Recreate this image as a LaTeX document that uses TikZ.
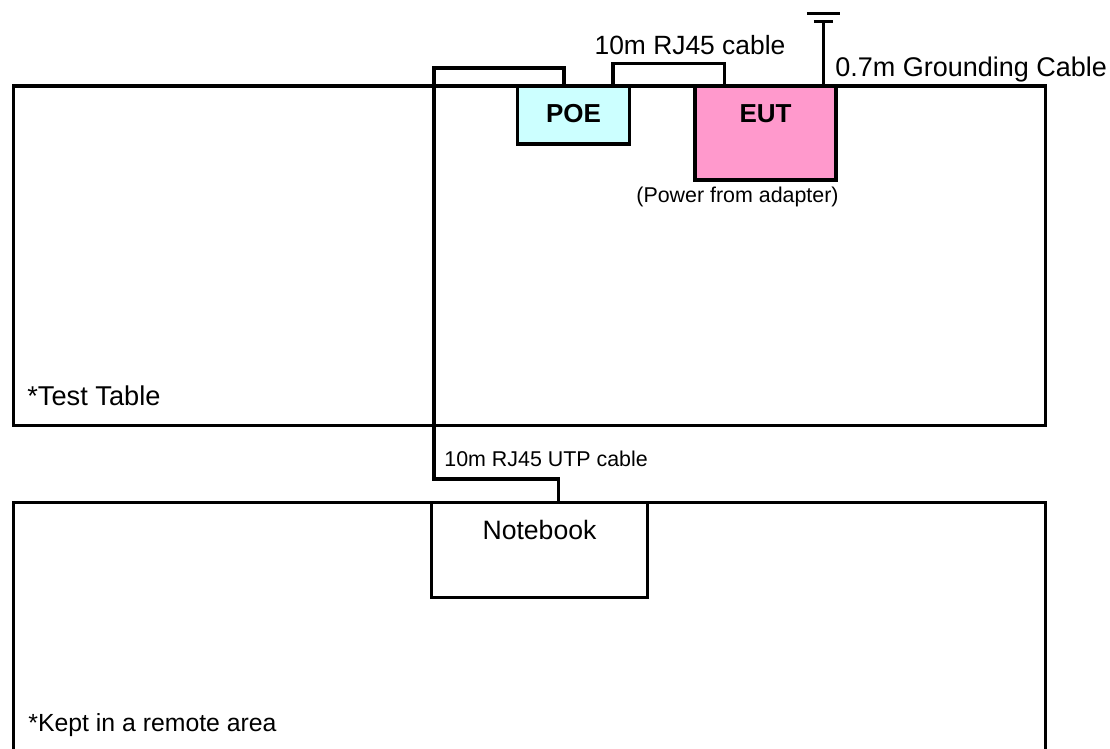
\documentclass[tikz,border=0pt]{standalone}
\usepackage{fontspec}
\setmainfont{Liberation Sans}
\usetikzlibrary{positioning}
\usetikzlibrary{fit}
\definecolor{poeBody}{RGB}{204,255,255}
\definecolor{eutBody}{RGB}{255,153,204}
\tikzstyle{area} = [draw, line width=1.7pt, inner sep=0pt, outer sep=0pt]
\tikzstyle{cable} = [line width=1.7pt]
\tikzstyle{ground} = [line width=1.5pt]
\tikzstyle{caption} = [font={\fontsize{13.3}{16}\selectfont}, inner sep=0pt]
\tikzstyle{devname} = [font={\fontsize{13}{15}\selectfont\bfseries}, inner sep=0pt]
\tikzstyle{note} = [font={\fontsize{10.7}{13}\selectfont}, inner sep=0pt]

\begin{document}
\begin{tikzpicture}[x=0.5pt, y=-0.5pt]
        \useasboundingbox (0,0) rectangle (1110,749);
        \clip (0,0) rectangle (1110,749);
        % the two tables
        \node [area, fit={(13.5,86) (1045.7,425.7)}] (table) {};
        \node [area, fit={(13.5,502.3) (1045.7,800)}] (remote) {};
        % boxes on them
        \node [area, fill=poeBody, fit={(517.5,86) (629.5,144)}] (poe) {};
        \node [area, fill=eutBody, fit={(695,86) (836,180)}] (eut) {};
        \node [area, fit={(431.7,502.3) (647.3,597.7)}] (notebook) {};
        % texts
        \node [devname, anchor=base] (poename) at (573.5,122.7) {POE};
        \node [devname, anchor=base] (eutname) at (765.5,122.7) {EUT};
        \node [caption, anchor=base] (nbname) at (539.5,539) {Notebook};
        \node [note, anchor=base] (power) at (737.5,203) {(Power from adapter)};
        \node [caption, anchor=base west, font={\fontsize{13.6}{16}\selectfont}] (tablename) at (27,405) {*Test Table};
        \node [caption, anchor=base west, font={\fontsize{12.4}{15}\selectfont}] (remotename) at (28,731.7) {*Kept in a remote area};
        % cables
        \draw [cable]
            ([xshift=19.75pt]poe.north)
            -- ++(0,-22.3)
            -| ([xshift=-20.5pt]eut.north);
        \node [caption, anchor=base, font={\fontsize{13.2}{16}\selectfont}] (rjlabel) at (690,55) {10m RJ45 cable};
        \draw [cable]
            ([xshift=-4.75pt]poe.north)
            -- ++(0,-18)
            -| ++(-130,411)
            -| ([xshift=9.4pt]notebook.north);
        \node [note, anchor=base west] (utplabel) at (444,466.7) {10m RJ45 UTP cable};
        % grounding
        \draw [ground] ([xshift=28.9pt]eut.north) -- ++(0,-64.3) coordinate (gnd);
        \draw [ground] (gnd) +(-9.5,0) -- +(9.5,0);
        \draw [ground] (gnd) +(-16.5,-8.4) -- +(16.5,-8.4);
        \node [caption, anchor=base west, font={\fontsize{13.5}{16}\selectfont}] (gndlabel) at (835,76.7) {0.7m Grounding Cable};
\end{tikzpicture}
\end{document}
